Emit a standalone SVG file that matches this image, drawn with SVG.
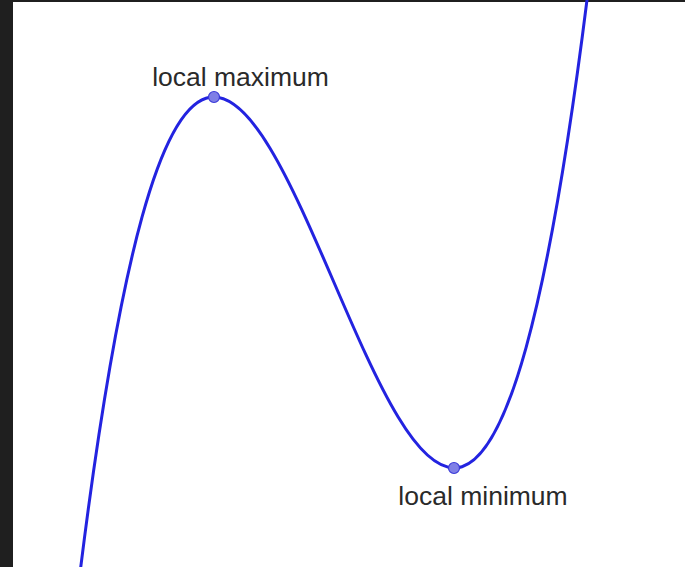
<svg xmlns="http://www.w3.org/2000/svg" width="685" height="567" viewBox="0 0 685 567">
  <style>
    .lbl { font-family: "Liberation Sans", Arial, sans-serif; font-size: 26.5px; fill: #2a2a2a; text-anchor: middle; }
    .curve { fill: none; stroke: #2323e0; stroke-width: 3; }
    .pt { fill: #7f7fe6; stroke: #3a3ad8; stroke-width: 1.2; }
  </style>
  <rect x="0" y="0" width="685" height="567" fill="#ffffff"/>
  <rect x="0" y="0" width="13" height="567" fill="#1f1f1f"/>
  <rect x="0" y="0" width="685" height="2" fill="#1f1f1f"/>
  <g id="connectors">
    <path class="curve" d="M78,589.4 C248.67,-815.9 419.33,1380.9 590,-24.4"/>
  </g>
  <g id="local-maximum">
    <circle class="pt" cx="214" cy="97" r="5.5"/>
    <text class="lbl" x="240.5" y="86">local maximum</text>
  </g>
  <g id="local-minimum">
    <circle class="pt" cx="454" cy="468" r="5.5"/>
    <text class="lbl" x="483" y="505">local minimum</text>
  </g>
</svg>
